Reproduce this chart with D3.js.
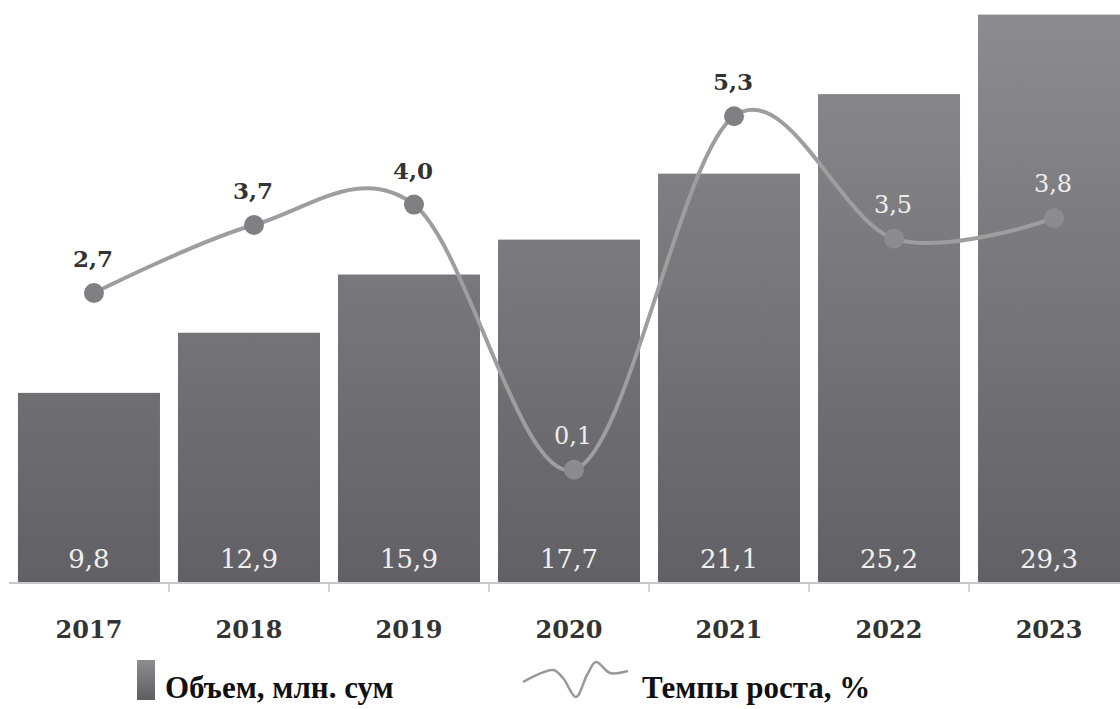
<!DOCTYPE html>
<html>
<head>
<meta charset="utf-8">
<script src="https://cdn.jsdelivr.net/npm/d3@7"></script>
<style>
  body { margin: 0; background: #fff; }
  svg { display: block; }
</style>
</head>
<body>
<svg width="1120" height="709"></svg>
<script>
const years = ["2017", "2018", "2019", "2020", "2021", "2022", "2023"];
const volume = [9.8, 12.9, 15.9, 17.7, 21.1, 25.2, 29.3];
const growth = [2.7, 3.7, 4.0, 0.1, 5.3, 3.5, 3.8];
// labels drawn light because they sit inside a bar
const insideBar = [false, false, false, true, false, true, true];

const fmt = v => d3.format(".1f")(v).replace(".", ",");

const svg = d3.select("svg");
const serif = "'DejaVu Serif', serif";

const x = d3.scaleBand().domain(years).range([9, 1129]).paddingInner(0.1125).paddingOuter(0.056);
const y = d3.scaleLinear().domain([0, 30]).range([583, 1]);
const y2 = d3.scaleLinear().domain([0, 6]).range([476.6, 68.6]);

// bar gradient
const defs = svg.append("defs");
const grad = defs.append("linearGradient")
    .attr("id", "barGrad")
    .attr("gradientUnits", "userSpaceOnUse")
    .attr("x1", 0).attr("y1", 0).attr("x2", 0).attr("y2", 583);
grad.append("stop").attr("offset", "0%").attr("stop-color", "#8d8d91");
grad.append("stop").attr("offset", "100%").attr("stop-color", "#616165");

// bars
svg.append("g")
    .selectAll("rect")
    .data(volume)
    .enter()
    .append("rect")
    .attr("x", (d, i) => x(years[i]))
    .attr("y", d => y(d))
    .attr("width", x.bandwidth())
    .attr("height", d => y(0) - y(d))
    .attr("fill", "url(#barGrad)");

// bar values
svg.append("g")
    .selectAll("text")
    .data(volume)
    .enter()
    .append("text")
    .attr("x", (d, i) => x(years[i]) + x.bandwidth() / 2)
    .attr("y", 568)
    .attr("text-anchor", "middle")
    .attr("font-family", serif)
    .attr("font-size", "26px")
    .attr("fill", "#f0f0f0")
    .text(d => fmt(d));

// x axis
const axis = svg.append("g").attr("transform", "translate(0,583)");
axis.append("line")
    .attr("x1", 9).attr("x2", 1120)
    .attr("stroke", "#c8c8c8").attr("stroke-width", 2);
axis.selectAll("line.tick")
    .data(years.slice(1))
    .enter()
    .append("line")
    .attr("class", "tick")
    .attr("x1", d => x(d) - x.step() * x.paddingInner() / 2)
    .attr("x2", d => x(d) - x.step() * x.paddingInner() / 2)
    .attr("y1", 0).attr("y2", 9)
    .attr("stroke", "#c8c8c8").attr("stroke-width", 1.5);
axis.selectAll("text")
    .data(years)
    .enter()
    .append("text")
    .attr("x", d => x(d) + x.bandwidth() / 2)
    .attr("y", 55)
    .attr("text-anchor", "middle")
    .attr("font-family", serif)
    .attr("font-weight", "bold")
    .attr("font-size", "24px")
    .attr("fill", "#333")
    .text(d => d);

// growth line (markers sit slightly right of bar centres)
const pts = growth.map((d, i) => [x(years[i]) + x.bandwidth() / 2 + 5, y2(d)]);
const line = d3.line().curve(d3.curveCardinal.tension(0));
svg.append("path")
    .attr("d", line(pts))
    .attr("fill", "none")
    .attr("stroke", "#9e9ea0")
    .attr("stroke-width", 4);

svg.append("g")
    .selectAll("circle")
    .data(pts)
    .enter()
    .append("circle")
    .attr("cx", d => d[0])
    .attr("cy", d => d[1])
    .attr("r", 10)
    .attr("fill", (d, i) => insideBar[i] ? "#8c8c90" : "#808084");

svg.append("g")
    .selectAll("text")
    .data(growth)
    .enter()
    .append("text")
    .attr("x", (d, i) => pts[i][0] - 1)
    .attr("y", (d, i) => pts[i][1] - 26)
    .attr("text-anchor", "middle")
    .attr("font-family", serif)
    .attr("font-weight", (d, i) => insideBar[i] ? "normal" : "bold")
    .attr("font-size", (d, i) => insideBar[i] ? "24px" : "23px")
    .attr("fill", (d, i) => insideBar[i] ? "#eeeeee" : "#333")
    .text(d => fmt(d));

// legend
const lg = defs.append("linearGradient")
    .attr("id", "legGrad").attr("x1", 0).attr("y1", 0).attr("x2", 0).attr("y2", 1);
lg.append("stop").attr("offset", "0%").attr("stop-color", "#8d8d91");
lg.append("stop").attr("offset", "100%").attr("stop-color", "#5f5f63");

const legend = svg.append("g");
legend.append("rect")
    .attr("x", 137).attr("y", 660).attr("width", 18).attr("height", 40)
    .attr("fill", "url(#legGrad)");

legend.append("text")
    .attr("x", 165).attr("y", 698)
    .attr("font-family", "'Liberation Serif', serif")
    .attr("font-weight", "bold")
    .attr("font-size", "31px")
    .attr("fill", "#111")
    .text("Объем, млн. сум");

// legend wiggle sample
const wiggle = [[13, 37], [43, 25], [53, 33], [66, 52], [77, 30], [86, 17], [100, 28], [118, 26]];
legend.append("path")
    .attr("transform", "translate(510,645)")
    .attr("d", d3.line().curve(d3.curveCatmullRom.alpha(0.5))(wiggle))
    .attr("fill", "none")
    .attr("stroke", "#999")
    .attr("stroke-width", 2.5);

legend.append("text")
    .attr("x", 642).attr("y", 698)
    .attr("font-family", "'Liberation Serif', serif")
    .attr("font-weight", "bold")
    .attr("font-size", "31px")
    .attr("fill", "#111")
    .text("Темпы роста, %");
</script>
</body>
</html>
